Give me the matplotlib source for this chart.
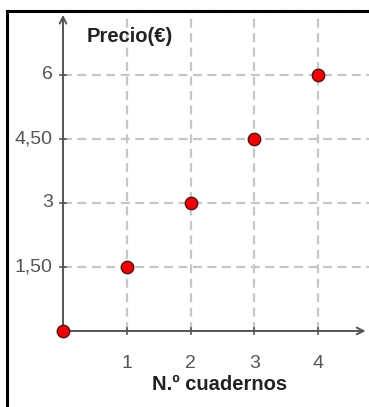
import matplotlib.pyplot as plt
from matplotlib.lines import Line2D

plt.rcParams['font.family'] = ['Liberation Sans', 'DejaVu Sans']

# data
cuadernos = [0, 1, 2, 3, 4]
precio = [0, 1.5, 3, 4.5, 6]
xticks = [1, 2, 3, 4]
yticks = [1.5, 3, 4.5, 6]
ytick_labels = ['1,50', '3', '4,50', '6']

W, H = 369, 407
fig = plt.figure(figsize=(W / 100, H / 100), dpi=100)
ax = fig.add_axes([0, 0, 1, 1])

# pixel mapping: origin at (63, 331), 63.75 px per notebook, 42.67 px per euro
ox, oy, sx, sy = 63, 331, 63.75, 42.67
ax.set_xlim(-ox / sx, (W - ox) / sx)
ax.set_ylim(-(H - oy) / sy, oy / sy)
ax.axis('off')

xmax = (W - ox) / sx
ymax = (oy - 12) / sy

grid_kw = dict(color='#c6c6c6', lw=1.6, ls=(0, (4, 2.5)), zorder=1)
for x in xticks:
    ax.plot([x, x], [0, ymax], **grid_kw)
for y in yticks + [7.5]:
    ax.plot([0, xmax], [y, y], **grid_kw)

# axes with arrows
axis_col = '#555555'
ax.annotate('', xy=(xmax - 0.01, 0), xytext=(0, 0),
            arrowprops=dict(arrowstyle='->', color=axis_col, lw=1.4,
                            mutation_scale=12), zorder=2)
ax.annotate('', xy=(0, ymax), xytext=(0, 0),
            arrowprops=dict(arrowstyle='->', color=axis_col, lw=1.4,
                            mutation_scale=12), zorder=2)

# ticks
for x in xticks:
    ax.plot([x, x], [-0.07, 0.07], color=axis_col, lw=1.2, zorder=2)
    ax.text(x, -0.77, str(x), ha='center', va='center', fontsize=14,
            color='#555555')
for y, lab in zip(yticks, ytick_labels):
    ax.plot([-0.05, 0.05], [y, y], color=axis_col, lw=1.2, zorder=2)
    ax.text(-0.16, y, lab, ha='right', va='center', fontsize=14,
            color='#555555')

ax.scatter(cuadernos, precio, s=80, color='#ee0000', edgecolor='#551111',
           lw=1, zorder=5, clip_on=False)

ax.text((87 - ox) / sx, (oy - 37) / sy, 'Precio(€)', fontsize=14.5,
        fontweight='bold', ha='left', va='center', color='#222222')
ax.text((220 - ox) / sx, -(385 - oy) / sy, 'N.º cuadernos', fontsize=14.5,
        fontweight='bold', ha='center', va='center', color='#222222')

# frame: top and left edges only
fig.add_artist(Line2D([7 / W, 7 / W], [0, 1 - 11 / H], color='black', lw=2.2,
                      transform=fig.transFigure))
fig.add_artist(Line2D([7 / W, 1], [1 - 11 / H, 1 - 11 / H], color='black',
                      lw=2.2, transform=fig.transFigure))

fig.savefig('out.png', dpi=100, facecolor='white')
